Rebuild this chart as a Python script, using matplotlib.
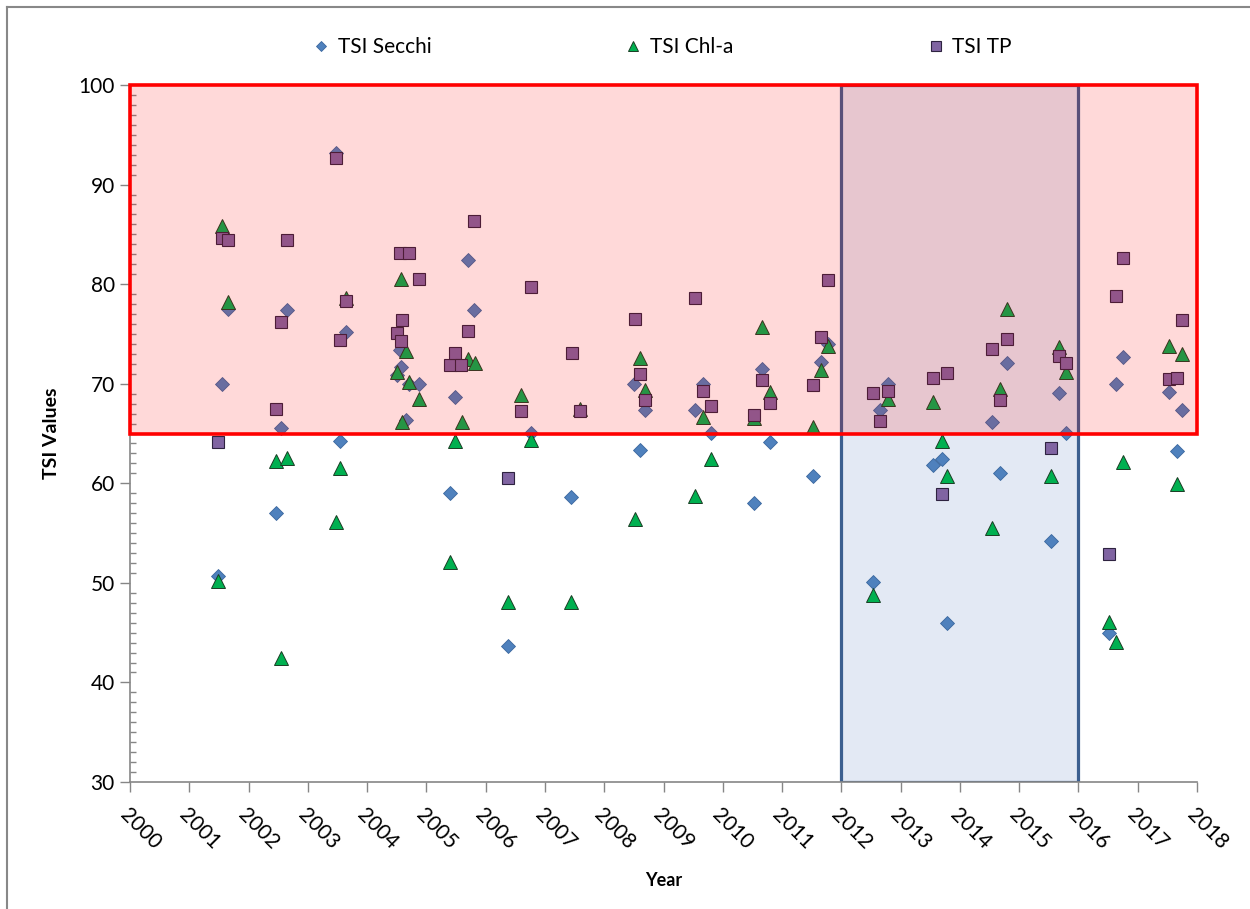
import matplotlib.pyplot as plt
from matplotlib import patches
from matplotlib.lines import Line2D
from matplotlib.ticker import MultipleLocator

plt.rcParams['font.family'] = ['Lato', 'DejaVu Sans']

# TSI Secchi
secchi_year = [2001.48, 2001.55, 2001.66, 2002.47, 2002.55, 2002.65, 2003.48, 2003.55, 2003.64,
               2004.50, 2004.55, 2004.58, 2004.65, 2004.71, 2004.87, 2005.40, 2005.49, 2005.70,
               2005.81, 2006.38, 2006.76, 2007.44, 2008.50, 2008.61, 2008.69, 2009.53, 2009.66,
               2009.80, 2010.53, 2010.67, 2010.79, 2011.53, 2011.66, 2011.77, 2012.53, 2012.66,
               2012.78, 2013.54, 2013.69, 2013.79, 2014.55, 2014.68, 2014.80, 2015.53, 2015.67,
               2015.79, 2016.51, 2016.64, 2016.75, 2017.52, 2017.66, 2017.74]
secchi_val = [50.7, 70.0, 77.5, 57.0, 65.6, 77.4, 93.2, 64.2, 75.2,
              70.9, 73.4, 71.7, 66.4, 70.0, 70.0, 59.0, 68.7, 82.4,
              77.4, 43.7, 65.1, 58.6, 70.0, 63.3, 67.4, 67.4, 70.0,
              65.1, 58.0, 71.5, 64.1, 60.7, 72.2, 74.0, 50.1, 67.4,
              70.0, 61.8, 62.4, 46.0, 66.2, 61.0, 72.1, 54.2, 69.1,
              65.1, 45.0, 70.0, 72.7, 69.2, 63.2, 67.4]

# TSI Chl-a
chla_year = [2001.48, 2001.55, 2001.66, 2002.46, 2002.55, 2002.65, 2003.48, 2003.55, 2003.64,
             2004.50, 2004.57, 2004.59, 2004.65, 2004.70, 2004.87, 2005.40, 2005.49, 2005.60,
             2005.70, 2005.82, 2006.38, 2006.60, 2006.76, 2007.44, 2007.59, 2008.52, 2008.61,
             2008.69, 2009.53, 2009.66, 2009.80, 2010.53, 2010.67, 2010.79, 2011.53, 2011.66,
             2011.78, 2012.53, 2012.78, 2013.54, 2013.69, 2013.79, 2014.55, 2014.68, 2014.80,
             2015.53, 2015.67, 2015.79, 2016.51, 2016.64, 2016.75, 2017.52, 2017.66, 2017.74]
chla_val = [50.2, 85.8, 78.2, 62.2, 42.5, 62.5, 56.1, 61.5, 78.6,
            71.2, 80.5, 66.2, 73.3, 70.2, 68.5, 52.1, 64.2, 66.2,
            72.5, 72.1, 48.1, 68.9, 64.3, 48.1, 67.5, 56.4, 72.6,
            69.4, 58.7, 66.7, 62.4, 66.6, 75.7, 69.2, 65.7, 71.4,
            73.8, 48.8, 68.5, 68.2, 64.2, 60.7, 55.5, 69.5, 77.5,
            60.7, 73.7, 71.2, 46.1, 44.1, 62.1, 73.8, 59.9, 73.0]

# TSI TP
tp_year = [2001.48, 2001.56, 2001.66, 2002.47, 2002.54, 2002.65, 2003.48, 2003.55, 2003.64,
           2004.50, 2004.55, 2004.57, 2004.59, 2004.71, 2004.87, 2005.40, 2005.49, 2005.59,
           2005.70, 2005.81, 2006.38, 2006.60, 2006.76, 2007.45, 2007.59, 2008.52, 2008.61,
           2008.69, 2009.53, 2009.66, 2009.80, 2010.53, 2010.67, 2010.79, 2011.53, 2011.66,
           2011.78, 2012.53, 2012.66, 2012.78, 2013.54, 2013.69, 2013.79, 2014.55, 2014.68,
           2014.80, 2015.54, 2015.67, 2015.79, 2016.51, 2016.64, 2016.75, 2017.52, 2017.66,
           2017.74]
tp_val = [64.1, 84.6, 84.4, 67.5, 76.2, 84.4, 92.7, 74.4, 78.3,
          75.1, 83.1, 74.3, 76.4, 83.1, 80.5, 71.9, 73.1, 71.9,
          75.3, 86.3, 60.5, 67.3, 79.7, 73.1, 67.3, 76.5, 71.0,
          68.4, 78.6, 69.3, 67.8, 66.9, 70.4, 68.1, 69.9, 74.7,
          80.4, 69.1, 66.3, 69.3, 70.6, 58.9, 71.1, 73.5, 68.4,
          74.5, 63.5, 72.8, 72.1, 52.9, 78.8, 82.6, 70.5, 70.6,
          76.4]

years = list(range(2000, 2019))

fig = plt.figure(figsize=(12.5, 9.09), dpi=100)
ax = fig.add_axes([0.104, 0.1397, 0.8536, 0.7668])

# highlighted regions
blue = patches.Rectangle((2012, 30), 4, 70, facecolor="#E3E9F4", edgecolor="#3C5F8F",
                         linewidth=2.3, zorder=1)
ax.add_patch(blue)
red = patches.Rectangle((2000, 65), 18, 35, facecolor=(1, 0, 0, 0.15), edgecolor="#FF0000",
                        linewidth=2.6, zorder=5, clip_on=False)
ax.add_patch(red)

ax.plot(secchi_year, secchi_val, linestyle="none", marker="D", markersize=7.3,
        markerfacecolor="#4F81BD", markeredgecolor="#3A679E", markeredgewidth=0.6,
        label="TSI Secchi", zorder=3)
ax.plot(chla_year, chla_val, linestyle="none", marker="^", markersize=9.5,
        markerfacecolor="#00B050", markeredgecolor="#1A3D24", markeredgewidth=0.7,
        label="TSI Chl-a", zorder=3)
ax.plot(tp_year, tp_val, linestyle="none", marker="s", markersize=9.3,
        markerfacecolor="#8064A2", markeredgecolor="#2E2340", markeredgewidth=0.8,
        label="TSI TP", zorder=3)

ax.set_xlim(2000, 2018)
ax.set_ylim(30, 100)
ax.set_xticks(years)
ax.set_xticklabels([str(y) for y in years], rotation=-45, ha="left", va="top",
                   rotation_mode="anchor", fontsize=15)
ax.yaxis.set_major_locator(MultipleLocator(10))
ax.yaxis.set_minor_locator(MultipleLocator(1))
ax.tick_params(axis="y", which="major", direction="out", length=7, width=1,
               color="#868686", labelsize=15, pad=4)
ax.tick_params(axis="y", which="minor", direction="in", length=4, width=1, color="#868686")
ax.tick_params(axis="x", which="major", direction="out", length=7, width=1,
               color="#868686", pad=9)

for side in ["top", "right"]:
    ax.spines[side].set_visible(False)
for side in ["left", "bottom"]:
    ax.spines[side].set_color("#868686")
    ax.spines[side].set_linewidth(1.2)

ax.set_ylabel("TSI Values", fontsize=14, fontweight="bold", labelpad=13)
ax.set_xlabel("Year", fontsize=13, fontweight="bold", labelpad=14)

fig.legend(loc="center", bbox_to_anchor=(0.529, 0.948), ncol=3, frameon=False,
           fontsize=15, columnspacing=9.2, handletextpad=0.3, handlelength=1.0,
           markerscale=0.75)

# chart area border (top and left edges visible)
fig.add_artist(Line2D([0.0056, 1.0], [0.9923, 0.9923], color="#888888", linewidth=1.5))
fig.add_artist(Line2D([0.0056, 0.0056], [0.0, 0.9923], color="#888888", linewidth=1.5))

fig.savefig("out.png", dpi=100)
